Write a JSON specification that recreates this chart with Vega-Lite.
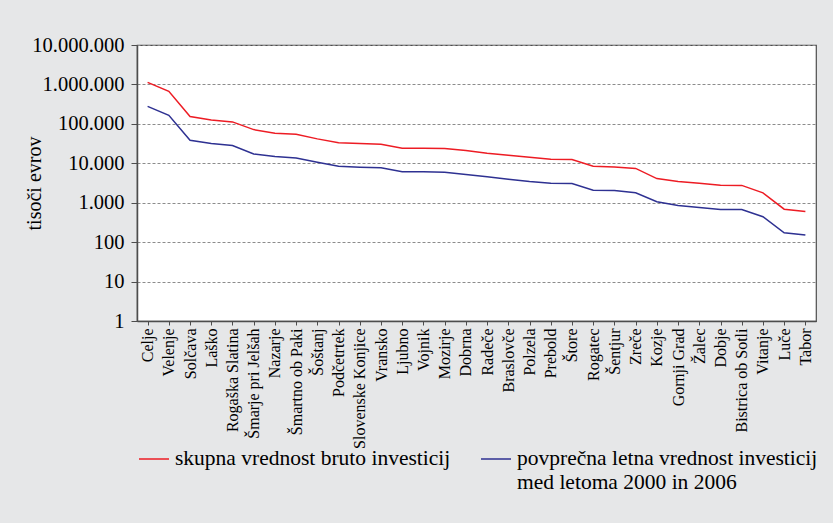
{
  "$schema": "https://vega.github.io/schema/vega-lite/v6.json",
  "width": 679,
  "height": 276,
  "autosize": {"type": "none"},
  "padding": {"left": 137, "top": 45, "right": 17, "bottom": 202},
  "background": "#e6e7e8",
  "config": {
    "font": "Liberation Serif",
    "axis": {"labelFont": "Liberation Serif", "titleFont": "Liberation Serif"},
    "legend": {"labelFont": "Liberation Serif"},
    "view": {"fill": "white", "stroke": "#4d4d4d", "strokeWidth": 1.2},
    "locale": {"number": {"decimal": ",", "thousands": ".", "grouping": [3], "currency": ["", " €"]}}
  },
  "data": {"values": [
    {"obcina": "Celje", "serija": "skupna", "vrednost": 1130000},
    {"obcina": "Velenje", "serija": "skupna", "vrednost": 667000},
    {"obcina": "Solčava", "serija": "skupna", "vrednost": 153000},
    {"obcina": "Laško", "serija": "skupna", "vrednost": 126000},
    {"obcina": "Rogaška Slatina", "serija": "skupna", "vrednost": 112000},
    {"obcina": "Šmarje pri Jelšah", "serija": "skupna", "vrednost": 71500},
    {"obcina": "Nazarje", "serija": "skupna", "vrednost": 57600},
    {"obcina": "Šmartno ob Paki", "serija": "skupna", "vrednost": 54400},
    {"obcina": "Šoštanj", "serija": "skupna", "vrednost": 41600},
    {"obcina": "Podčetrtek", "serija": "skupna", "vrednost": 33000},
    {"obcina": "Slovenske Konjice", "serija": "skupna", "vrednost": 31600},
    {"obcina": "Vransko", "serija": "skupna", "vrednost": 30300},
    {"obcina": "Ljubno", "serija": "skupna", "vrednost": 24000},
    {"obcina": "Vojnik", "serija": "skupna", "vrednost": 24000},
    {"obcina": "Mozirje", "serija": "skupna", "vrednost": 23600},
    {"obcina": "Dobrna", "serija": "skupna", "vrednost": 21000},
    {"obcina": "Radeče", "serija": "skupna", "vrednost": 18000},
    {"obcina": "Braslovče", "serija": "skupna", "vrednost": 16000},
    {"obcina": "Polzela", "serija": "skupna", "vrednost": 14200},
    {"obcina": "Prebold", "serija": "skupna", "vrednost": 12700},
    {"obcina": "Štore", "serija": "skupna", "vrednost": 12400},
    {"obcina": "Rogatec", "serija": "skupna", "vrednost": 8400},
    {"obcina": "Šentjur", "serija": "skupna", "vrednost": 8100},
    {"obcina": "Zreče", "serija": "skupna", "vrednost": 7400},
    {"obcina": "Kozje", "serija": "skupna", "vrednost": 4100},
    {"obcina": "Gornji Grad", "serija": "skupna", "vrednost": 3450},
    {"obcina": "Žalec", "serija": "skupna", "vrednost": 3130},
    {"obcina": "Dobje", "serija": "skupna", "vrednost": 2780},
    {"obcina": "Bistrica ob Sotli", "serija": "skupna", "vrednost": 2750},
    {"obcina": "Vitanje", "serija": "skupna", "vrednost": 1780},
    {"obcina": "Luče", "serija": "skupna", "vrednost": 686},
    {"obcina": "Tabor", "serija": "skupna", "vrednost": 600},
    {"obcina": "Celje", "serija": "povprecna", "vrednost": 278000},
    {"obcina": "Velenje", "serija": "povprecna", "vrednost": 165000},
    {"obcina": "Solčava", "serija": "povprecna", "vrednost": 38400},
    {"obcina": "Laško", "serija": "povprecna", "vrednost": 31600},
    {"obcina": "Rogaška Slatina", "serija": "povprecna", "vrednost": 28100},
    {"obcina": "Šmarje pri Jelšah", "serija": "povprecna", "vrednost": 17300},
    {"obcina": "Nazarje", "serija": "povprecna", "vrednost": 14800},
    {"obcina": "Šmartno ob Paki", "serija": "povprecna", "vrednost": 13700},
    {"obcina": "Šoštanj", "serija": "povprecna", "vrednost": 10600},
    {"obcina": "Podčetrtek", "serija": "povprecna", "vrednost": 8400},
    {"obcina": "Slovenske Konjice", "serija": "povprecna", "vrednost": 7940},
    {"obcina": "Vransko", "serija": "povprecna", "vrednost": 7660},
    {"obcina": "Ljubno", "serija": "povprecna", "vrednost": 6070},
    {"obcina": "Vojnik", "serija": "povprecna", "vrednost": 6070},
    {"obcina": "Mozirje", "serija": "povprecna", "vrednost": 5940},
    {"obcina": "Dobrna", "serija": "povprecna", "vrednost": 5190},
    {"obcina": "Radeče", "serija": "povprecna", "vrednost": 4530},
    {"obcina": "Braslovče", "serija": "povprecna", "vrednost": 3950},
    {"obcina": "Polzela", "serija": "povprecna", "vrednost": 3450},
    {"obcina": "Prebold", "serija": "povprecna", "vrednost": 3130},
    {"obcina": "Štore", "serija": "povprecna", "vrednost": 3070},
    {"obcina": "Rogatec", "serija": "povprecna", "vrednost": 2080},
    {"obcina": "Šentjur", "serija": "povprecna", "vrednost": 2040},
    {"obcina": "Zreče", "serija": "povprecna", "vrednost": 1780},
    {"obcina": "Kozje", "serija": "povprecna", "vrednost": 1055},
    {"obcina": "Gornji Grad", "serija": "povprecna", "vrednost": 851},
    {"obcina": "Žalec", "serija": "povprecna", "vrednost": 758},
    {"obcina": "Dobje", "serija": "povprecna", "vrednost": 675},
    {"obcina": "Bistrica ob Sotli", "serija": "povprecna", "vrednost": 675},
    {"obcina": "Vitanje", "serija": "povprecna", "vrednost": 440},
    {"obcina": "Luče", "serija": "povprecna", "vrednost": 173},
    {"obcina": "Tabor", "serija": "povprecna", "vrednost": 151}
  ]},
  "mark": {"type": "line", "strokeWidth": 1.5},
  "encoding": {
    "x": {
      "field": "obcina", "type": "nominal", "sort": null,
      "scale": {"type": "point", "padding": 0.5},
      "axis": {
        "title": null, "labelAngle": -90, "labelAlign": "right", "labelBaseline": "middle",
        "labelFont": "Liberation Serif", "labelFontSize": 16, "labelColor": "black", "labelPadding": 3,
        "tickSize": 4, "tickColor": "#4d4d4d", "domainColor": "#4d4d4d", "domainWidth": 1.5,
        "labelLimit": 200, "grid": false
      }
    },
    "y": {
      "field": "vrednost", "type": "quantitative",
      "scale": {"type": "log", "domain": [1, 10000000], "nice": false},
      "axis": {
        "title": "tisoči evrov", "titleFont": "Liberation Serif", "titleFontSize": 20, "titleFontWeight": "normal", "titleColor": "black",
        "titleX": -103, "titleY": 138, "titleBaseline": "middle", "titleAlign": "center", "titleAngle": -90,
        "values": [1, 10, 100, 1000, 10000, 100000, 1000000, 10000000],
        "format": ",", "labelFont": "Liberation Serif", "labelFontSize": 20.5, "labelColor": "black", "labelPadding": 7,
        "tickSize": 6, "tickColor": "#4d4d4d", "domainColor": "#4d4d4d", "domainWidth": 1.5,
        "gridColor": "#8c8c8c", "gridDash": [3, 2], "gridWidth": 1
      }
    },
    "color": {
      "field": "serija", "type": "nominal",
      "scale": {"domain": ["skupna", "povprecna"], "range": ["#ed1c24", "#2e3192"]},
      "legend": {
        "title": null, "orient": "none", "legendX": 1, "legendY": 398, "direction": "horizontal", "columns": 2,
        "padding": 0, "symbolType": "stroke", "symbolSize": 900, "symbolStrokeWidth": 1.5,
        "labelFont": "Liberation Serif", "labelFontSize": 21.5, "labelColor": "black", "labelLimit": 500, "labelOffset": 5, "columnPadding": 27,
        "labelExpr": "datum.value == 'skupna' ? ['skupna vrednost bruto investicij', ' '] : ['povprečna letna vrednost investicij', 'med letoma 2000 in 2006']"
      }
    }
  }
}
